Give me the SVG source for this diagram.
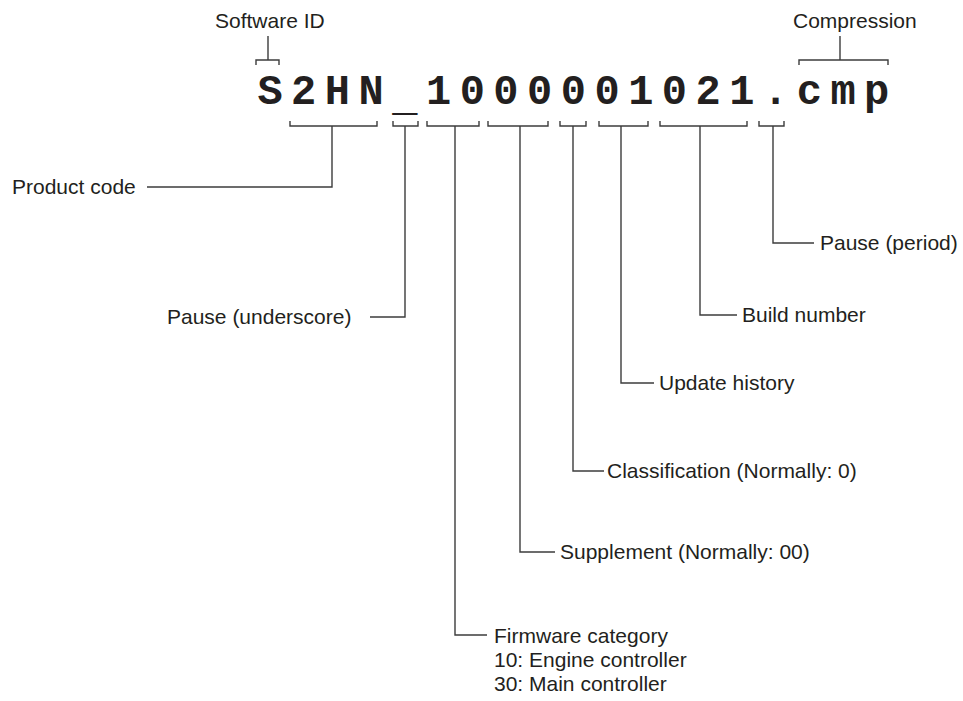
<svg xmlns="http://www.w3.org/2000/svg" width="963" height="701" viewBox="0 0 963 701">
<style>
.lbl{font-family:"Liberation Sans",Arial,sans-serif;font-size:21px;fill:#231f20}
.code{font-family:"Liberation Mono","Courier New",monospace;font-size:42px;font-weight:bold;fill:#231f20;letter-spacing:8.5px}
.ln{fill:none;stroke:#3c3c3c;stroke-width:1.4}
</style>
<rect width="963" height="701" fill="#ffffff"/>
<g id="filename"><text class="code" x="257.4" y="104">S2HN<tspan dy="6">_</tspan><tspan dy="-6">1000001021.cmp</tspan></text></g>
<g id="software-id"><text class="lbl" x="215" y="28">Software ID</text></g>
<g id="compression"><text class="lbl" x="793" y="28">Compression</text></g>
<g id="product-code"><text class="lbl" x="12" y="194">Product code</text></g>
<g id="pause-underscore"><text class="lbl" x="167" y="324">Pause (underscore)</text></g>
<g id="pause-period"><text class="lbl" x="820" y="250">Pause (period)</text></g>
<g id="build-number"><text class="lbl" x="742" y="322">Build number</text></g>
<g id="update-history"><text class="lbl" x="659" y="390">Update history</text></g>
<g id="classification"><text class="lbl" x="607" y="478">Classification (Normally: 0)</text></g>
<g id="supplement"><text class="lbl" x="560" y="559">Supplement (Normally: 00)</text></g>
<g id="firmware-category"><text class="lbl" x="494" y="643"><tspan x="494">Firmware category</tspan><tspan x="494" dy="24">10: Engine controller</tspan><tspan x="494" dy="24">30: Main controller</tspan></text></g>
<g id="connectors">
<path class="ln" d="M256,65V60H279V65M268,60V36"/>
<path class="ln" d="M799,65V60H888V65M840,60V36"/>
<path class="ln" d="M290,121V126H377V121M332,126V187H147"/>
<path class="ln" d="M393,121V126H418V121M405,126V317H370"/>
<path class="ln" d="M427,121V126H479V121M455,126V635H487"/>
<path class="ln" d="M488,121V126H548V121M520,126V552H555"/>
<path class="ln" d="M560,121V126H586V121M573,126V471H604"/>
<path class="ln" d="M599,121V126H648V121M621,126V383H654"/>
<path class="ln" d="M660,121V126H747V121M700,126V315H737"/>
<path class="ln" d="M759,121V126H784V121M773,126V243H814"/>
</g>
</svg>
